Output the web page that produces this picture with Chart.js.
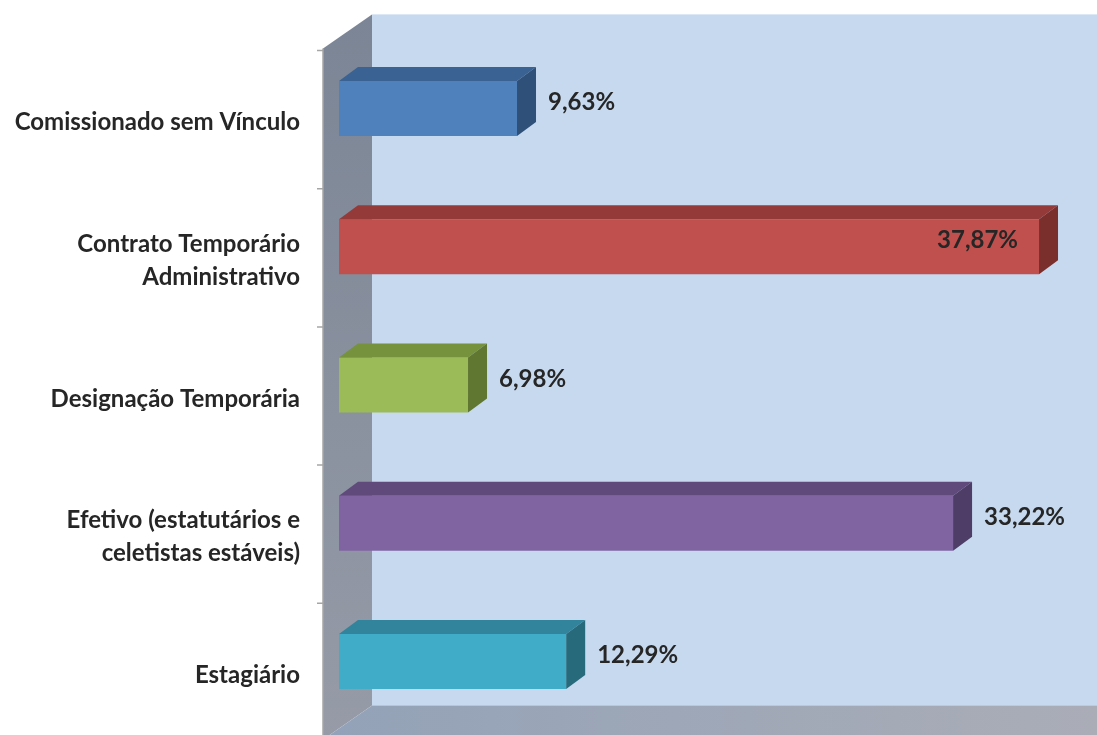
<!DOCTYPE html>
<html>
<head>
<meta charset="utf-8">
<script src="https://cdn.jsdelivr.net/npm/chart.js@4"></script>
<style>
  html, body { margin: 0; padding: 0; background: #fff; }
  #wrap { width: 1097px; height: 735px; position: relative; }
</style>
</head>
<body>
<div id="wrap"><canvas id="chart"></canvas></div>
<script>
// dados
const categorias = [
    'Comissionado sem Vínculo',
    ['Contrato Temporário', 'Administrativo'],
    'Designação Temporária',
    ['Efetivo (estatutários e', 'celetistas estáveis)'],
    'Estagiário'
];
const valores = [9.63, 37.87, 6.98, 33.22, 12.29];
const rotulos = ['9,63%', '37,87%', '6,98%', '33,22%', '12,29%'];

// cores: frente, topo, lado
const corFrente = ['#4F81BD', '#C0504D', '#9BBB59', '#8064A2', '#41ACC8'];
const corTopo   = ['#3A6292', '#943B39', '#76923C', '#5F4A7B', '#31849B'];
const corLado   = ['#2F5079', '#7A2F2D', '#5F7731', '#4E3D66', '#276A7C'];

// profundidade das barras e das paredes
const BAR_DX = 19, BAR_DY = -14;
const WALL_DX = 49, WALL_DY = -34;
const WALL_OFF_X = -16, WALL_OFF_Y = 9;

const fonte = { family: 'Lato, "Open Sans", sans-serif', size: 24, weight: 'bold', lineHeight: 1.375 };

function poly(ctx, pts, fill) {
    ctx.beginPath();
    ctx.moveTo(pts[0][0], pts[0][1]);
    for (let i = 1; i < pts.length; i++) ctx.lineTo(pts[i][0], pts[i][1]);
    ctx.closePath();
    ctx.fillStyle = fill;
    ctx.fill();
}

// paredes e piso 3D
const paredes = {
    id: 'paredes',
    beforeDatasetsDraw(chart) {
        const { ctx, chartArea: a, width } = chart;
        const fx = a.left + WALL_OFF_X;
        const fTop = a.top + WALL_OFF_Y, fBot = a.bottom + WALL_OFF_Y;
        const bx = fx + WALL_DX;
        const bTop = fTop + WALL_DY, bBot = fBot + WALL_DY;
        ctx.save();
        // fundo
        ctx.fillStyle = '#C6D9EF';
        ctx.fillRect(bx, bTop, width - bx + 60, bBot - bTop);
        // parede lateral
        const gl = ctx.createLinearGradient(0, bTop, 0, fBot);
        gl.addColorStop(0, '#7B8595');
        gl.addColorStop(1, '#969BA7');
        poly(ctx, [[fx, fTop], [bx, bTop], [bx, bBot], [fx, fBot]], gl);
        // piso
        const gp = ctx.createLinearGradient(fx, 0, width, 0);
        gp.addColorStop(0, '#93A2B8');
        gp.addColorStop(1, '#AAADB6');
        poly(ctx, [[fx, fBot], [bx, bBot], [width + 60, bBot], [width + 60 - WALL_DX, fBot]], gp);
        // eixo e marcas
        ctx.strokeStyle = '#A6A6A6';
        ctx.lineWidth = 1.5;
        ctx.beginPath();
        ctx.moveTo(fx, fTop);
        ctx.lineTo(fx, fBot);
        const n = categorias.length;
        const passo = (a.bottom - a.top) / n;
        for (let i = 0; i <= n; i++) {
            const y = fTop + 2 + i * passo;
            ctx.moveTo(fx - 6, y);
            ctx.lineTo(fx, y);
        }
        ctx.stroke();
        ctx.restore();
    }
};

// faces 3D das barras e rótulos de dados
const barras3d = {
    id: 'barras3d',
    afterDatasetsDraw(chart) {
        const { ctx } = chart;
        const meta = chart.getDatasetMeta(0);
        ctx.save();
        meta.data.forEach((bar, i) => {
            const p = bar.getProps(['x', 'y', 'base', 'height'], true);
            const x0 = p.base, x1 = p.x;
            const yt = p.y - p.height / 2, yb = p.y + p.height / 2;
            poly(ctx, [[x0, yt], [x0 + BAR_DX, yt + BAR_DY], [x1 + BAR_DX, yt + BAR_DY], [x1, yt]], corTopo[i]);
            poly(ctx, [[x1, yt], [x1 + BAR_DX, yt + BAR_DY], [x1 + BAR_DX, yb + BAR_DY], [x1, yb]], corLado[i]);
        });
        ctx.font = 'bold 24px Lato, "Open Sans", sans-serif';
        ctx.fillStyle = '#262626';
        ctx.textBaseline = 'middle';
        meta.data.forEach((bar, i) => {
            const p = bar.getProps(['x', 'y'], true);
            const w = ctx.measureText(rotulos[i]).width;
            if (p.x + 31 + w > chart.width - 10) {
                ctx.textAlign = 'right';
                ctx.fillText(rotulos[i], p.x - 21, p.y - 6);
            } else {
                ctx.textAlign = 'left';
                ctx.fillText(rotulos[i], p.x + 31, p.y - 6);
            }
        });
        ctx.restore();
    }
};

new Chart(document.getElementById('chart'), {
    type: 'bar',
    data: {
        labels: categorias,
        datasets: [{
            data: valores,
            backgroundColor: corFrente,
            borderWidth: 0,
            categoryPercentage: 1,
            barPercentage: 0.398
        }]
    },
    options: {
        indexAxis: 'y',
        responsive: true,
        maintainAspectRatio: false,
        animation: false,
        layout: { padding: { top: 39.4, bottom: 4.4, right: 18.6, left: 0 } },
        plugins: {
            legend: { display: false },
            tooltip: { enabled: false }
        },
        scales: {
            x: { display: false, min: 0, max: 40 },
            y: {
                afterFit(axis) {
                    axis.width = 339;
                    axis.paddingTop = 0;
                    axis.paddingBottom = 0;
                },
                grid: { display: false, drawTicks: false },
                border: { display: false },
                ticks: {
                    color: '#262626',
                    font: fonte,
                    padding: 39,
                    labelOffset: 14
                }
            }
        }
    },
    plugins: [paredes, barras3d]
});
</script>
</body>
</html>
